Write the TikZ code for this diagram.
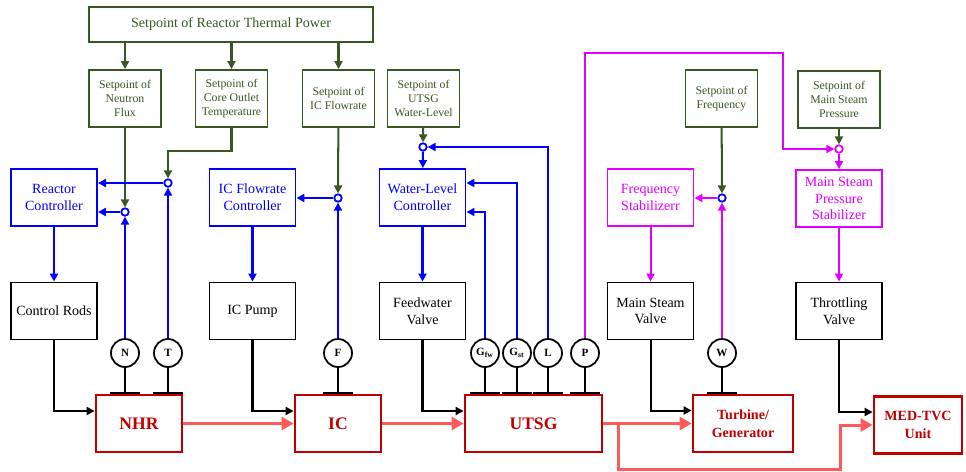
\documentclass[tikz,border=0pt]{standalone}
\usepackage{fontspec}
\setmainfont{Liberation Serif}
\usetikzlibrary{arrows.meta}
\definecolor{spgreen}{RGB}{56,87,35}
\definecolor{magen}{RGB}{224,0,255}
\definecolor{plantred}{RGB}{192,0,0}
\definecolor{flowred}{RGB}{255,90,90}

\begin{document}
\begin{tikzpicture}[
  x=0.02cm, y=-0.02cm,
  >={Triangle[length=0.16cm,width=0.16cm]},
  font=\fontsize{8}{9.6}\selectfont,
  box/.style={draw, line width=1.1pt, align=center, inner sep=0, minimum width=1.72cm, minimum height=1.14cm},
  spbox/.style={box, draw=spgreen, text=spgreen, minimum width=1.44cm, font=\fontsize{6.7}{8}\selectfont},
  ctl/.style={box, draw=blue, text=blue},
  stb/.style={box, draw=magen, text=magen},
  plant/.style={box, draw=plantred, text=plantred, line width=1.6pt, font=\bfseries\fontsize{10}{12}\selectfont},
  sensor/.style={circle, draw, line width=1pt, minimum size=0.56cm, inner sep=0, font=\bfseries\fontsize{6.3}{6.3}\selectfont},
  sum/.style={circle, draw=#1, line width=1pt, fill=white, minimum size=0.15cm, inner sep=0},
  wire/.style={line width=1.15pt},
  flow/.style={line width=1.7pt, flowred, -{Triangle[length=0.24cm,width=0.26cm]}},
]
  \useasboundingbox (0,0) rectangle (966,471);

  % setpoints
  \node[spbox, minimum width=5.68cm, minimum height=0.7cm, font=\fontsize{8}{9.6}\selectfont] (spPow) at (231,24.5) {Setpoint of Reactor Thermal Power};
  \node[spbox] (spNf) at (125,98.5) {Setpoint of\\Neutron\\Flux};
  \node[spbox] (spTc) at (231.5,98.5) {Setpoint of\\Core Outlet\\Temperature};
  \node[spbox] (spIc) at (338.5,98.5) {Setpoint of\\IC Flowrate};
  \node[spbox] (spWl) at (423.5,98.5) {Setpoint of\\UTSG\\Water-Level};
  \node[spbox] (spFq) at (721.5,98.5) {Setpoint of\\Frequency};
  \node[spbox, minimum width=1.64cm] (spMs) at (839,99.5) {Setpoint of\\Main Steam\\Pressure};

  % controllers
  \node[ctl] (ctlR) at (54,197.5) {Reactor\\Controller};
  \node[ctl] (ctlIc) at (252.5,197.5) {IC Flowrate\\Controller};
  \node[ctl] (ctlWl) at (422.5,197.5) {Water-Level\\Controller};
  \node[stb] (stbF) at (650.5,197.5) {Frequency\\Stabilizerr};
  \node[stb] (stbP) at (839,198.5) {Main Steam\\Pressure\\Stabilizer};

  % actuators
  \node[box] (actRod) at (54,311) {Control Rods};
  \node[box] (actPump) at (252.5,311) {IC Pump};
  \node[box] (actFw) at (422.5,311) {Feedwater\\Valve};
  \node[box] (actMsv) at (650.5,311) {Main Steam\\Valve};
  \node[box] (actThr) at (839,311) {Throttling\\Valve};

  % plant
  \node[plant] (pNhr) at (139,423.5) {NHR};
  \node[plant] (pIc) at (338,423.5) {IC};
  \node[plant, minimum width=2.74cm] (pUtsg) at (533.5,423.5) {UTSG};
  \node[plant, minimum width=2cm, font=\bfseries\fontsize{8}{10.2}\selectfont] (pTg) at (743,423.5) {Turbine/\\Generator};
  \node[plant, minimum width=1.76cm, font=\bfseries\fontsize{8}{10.2}\selectfont] (pMed) at (918,425) {MED-TVC\\Unit};

  % sensors
  \foreach \name/\x/\lab in {sN/125/N, sT/168/T, sF/338/F, sGfw/485/G\textsubscript{fw}, sGst/517/G\textsubscript{st}, sL/548/L, sP/585/P, sW/722/W}
    \node[sensor] (\name) at (\x,353) {\lab};
  \foreach \name in {sN, sT, sF, sGfw, sGst, sL, sP, sW}
    \draw[wire] (\name.south) -- ++(0,25) ++(-15,0) -- ++(30,0);

  % summing points
  \foreach \name/\x/\y/\col in {jN/125/212/blue, jT/168/183/blue, jF/338/198/blue, jWl/423/147/blue, jW/722/198/blue, jP/839/149/magen}
    \node[sum=\col] (\name) at (\x,\y) {};

  % setpoint lines
  \foreach \to in {spNf, spTc, spIc}
    \draw[wire, spgreen, ->] (spPow.south -| \to) -- (\to.north);
  \foreach \from/\to in {spNf/jN, spIc/jF, spWl/jWl, spFq/jW, spMs/jP}
    \draw[wire, spgreen, ->] (\from) -- (\to);
  \draw[wire, spgreen, ->] (spTc.south) -- ++(0,23) -| (jT.north);

  % blue loops
  \foreach \from/\to in {ctlR/actRod, ctlIc/actPump, ctlWl/actFw, sN/jN, sT/jT, sF/jF, jWl/ctlWl}
    \draw[wire, blue, ->] (\from) -- (\to);
  \draw[wire, blue, ->] (jN) -- (jN -| ctlR.east);
  \draw[wire, blue, ->] (jT) -- (jT -| ctlR.east);
  \draw[wire, blue, ->] (jF) -- (jF -| ctlIc.east);
  \draw[wire, blue, ->] (sL) |- (jWl);
  \draw[wire, blue, ->] (sGst) |- ([yshift=0.29cm]ctlWl.east);
  \draw[wire, blue, ->] (sGfw) |- ([yshift=-0.29cm]ctlWl.east);

  % magenta loops
  \coordinate (pBend) at (783,53);
  \draw[wire, magen, ->] (sP) |- (pBend) |- (jP);
  \foreach \from/\to in {jP/stbP, stbP/actThr, sW/jW, stbF/actMsv}
    \draw[wire, magen, ->] (\from) -- (\to);
  \draw[wire, magen, ->] (jW) -- (jW -| stbF.east);

  % actuator lines
  \draw[wire, ->] (actRod) |- ([yshift=0.25cm]pNhr.west);
  \draw[wire, ->] (actPump) |- ([yshift=0.25cm]pIc.west);
  \draw[wire, ->] (actFw) |- ([yshift=0.25cm]pUtsg.west);
  \draw[wire, ->] (actMsv) |- ([yshift=0.26cm]pTg.west);
  \draw[wire, ->] (actThr) |- ([yshift=0.26cm]pMed.west);

  % energy flow
  \draw[flow] (pNhr) -- (pIc);
  \draw[flow] (pIc) -- (pUtsg);
  \draw[flow] (pUtsg) -- (pTg);
  \coordinate (brA) at (618,423.5);
  \coordinate (brB) at (840,469);
  \draw[flow] (brA) |- (brB) |- (pMed.west);
\end{tikzpicture}
\end{document}
